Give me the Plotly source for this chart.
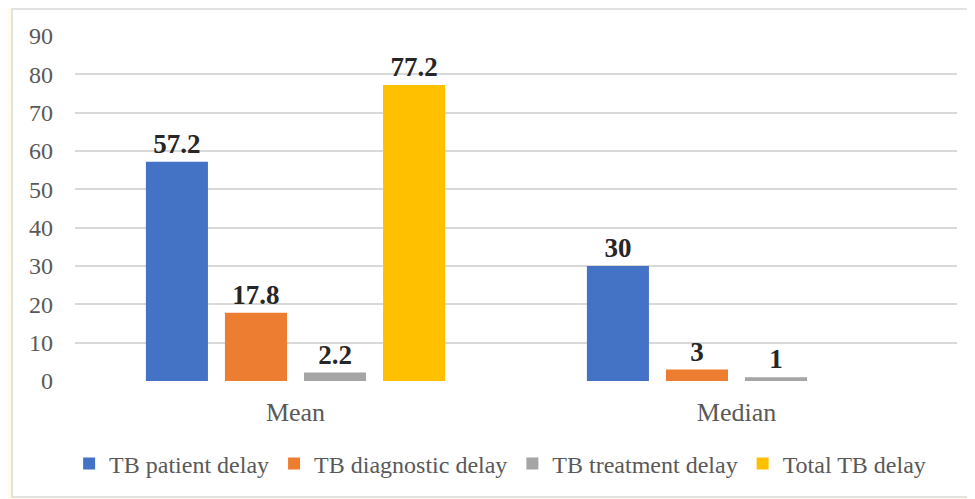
import plotly.graph_objects as go

categories = ["Mean", "Median"]
series_names = ["TB patient delay", "TB diagnostic delay", "TB treatment delay", "Total TB delay"]
patient_delay = [57.2, 30]
diagnostic_delay = [17.8, 3]
treatment_delay = [2.2, 1]
total_delay = [77.2, None]
label_texts = [["57.2", "30"], ["17.8", "3"], ["2.2", "1"], ["77.2", ""]]
colors = ["#4472C4", "#ED7D31", "#A5A5A5", "#FFC000"]
y_ticks = [0, 10, 20, 30, 40, 50, 60, 70, 80, 90]

values = [patient_delay, diagnostic_delay, treatment_delay, total_delay]
serif = "Liberation Serif"

fig = go.Figure()
for name, vals, txt, col in zip(series_names, values, label_texts, colors):
    fig.add_trace(go.Bar(
        x=categories, y=vals, name=name, marker=dict(color=col, line=dict(width=0)),
        text=txt, textposition="outside", cliponaxis=False,
        textfont=dict(family=serif, size=27, color="#262626"),
        texttemplate="<b>%{text}</b>",
    ))

fig.update_layout(
    width=975, height=499,
    paper_bgcolor="#FFFCE9", plot_bgcolor="white",
    margin=dict(l=67, r=26, t=28, b=126, autoexpand=False),
    barmode="group", bargap=0.283, bargroupgap=0.215,
    font=dict(family=serif, size=24, color="#595959"),
    showlegend=True,
    legend=dict(orientation="h", x=0.482, xanchor="center", y=-0.24, yanchor="middle",
                font=dict(family=serif, size=24, color="#595959"), itemwidth=30,
                bgcolor="rgba(0,0,0,0)", traceorder="normal"),
    shapes=[dict(type="rect", xref="paper", yref="paper",
                 x0=(4 - 67) / 882, x1=(962 - 67) / 882,
                 y0=(373 - 489) / 345, y1=(373 - 1) / 345,
                 fillcolor="white", line=dict(color="#D9D9D9", width=1.5), layer="below")],
)
fig.update_yaxes(range=[0, 90], tickvals=y_ticks, showgrid=True, gridcolor="#D9D9D9",
                 gridwidth=1.5, zeroline=False, showline=False, ticks="", automargin=False,
                 ticklabelstandoff=21, tickfont=dict(family=serif, size=24, color="#595959"))
fig.update_xaxes(showline=False, ticks="", automargin=False,
                 tickfont=dict(family=serif, size=26, color="#595959"),
                 ticklabelstandoff=13)

fig.write_html("out.html")
